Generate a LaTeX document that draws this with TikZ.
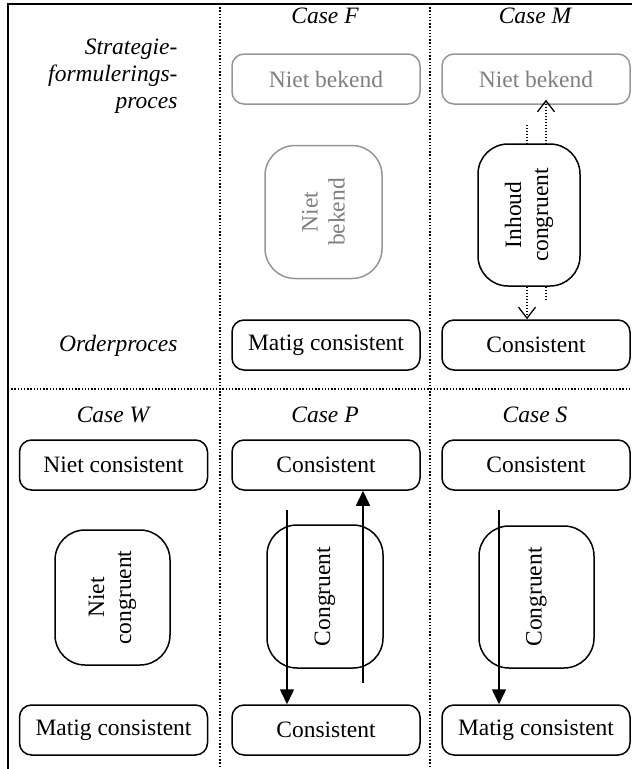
\documentclass[tikz,border=0pt]{standalone}
\usepackage{fontspec}
\setmainfont{Liberation Serif}
\usetikzlibrary{arrows.meta}
\definecolor{unknowntext}{RGB}{128,128,128}
\definecolor{unknownline}{RGB}{150,150,150}
\begin{document}
\begin{tikzpicture}[x=1pt,y=-1pt,
  every node/.style={font=\fontsize{23.5}{27}\selectfont},
  borderline/.style={line width=2.4pt, black},
  divider/.style={line width=1.3pt, dash pattern=on 1.3pt off 1.9pt},
  hbox/.style={draw, line width=1.5pt, rounded corners=12pt, fill=white,
    minimum width=188pt, minimum height=50pt, inner sep=0pt},
  vbox/.style={draw, line width=1.5pt, rounded corners=30pt, fill=white,
    rotate=90, align=center, inner sep=0pt},
  unknown/.style={draw=unknownline, text=unknowntext},
  caselabel/.style={font=\fontsize{23.5}{27}\selectfont\itshape},
  rowlabel/.style={font=\fontsize{23.5}{27}\selectfont\itshape, align=right, anchor=east},
  solidarrow/.style={line width=1.5pt, -{Triangle[length=15pt,width=14pt]}},
  dottedarrow/.style={line width=1.2pt, dash pattern=on 1.2pt off 1.8pt,
    -{Straight Barb[length=11pt,width=17pt,line width=1.3pt]}}
]
\useasboundingbox (0,0) rectangle (632,769);

% grid of the six cases
\draw[borderline] (8,769) -- (8,4) -- (632,4);
\draw[divider] (220,4) -- (220,769);
\draw[divider] (430,4) -- (430,769);
\draw[divider] (8,389) -- (632,389);

% row labels
\node[rowlabel] (strat) at (181,76) {Strategie-\\formulerings-\\proces};
\node[rowlabel] (order) at (181,346) {Orderproces};

% case labels
\node[caselabel] (caseF) at (325,16) {Case F};
\node[caselabel] (caseM) at (535,16) {Case M};
\node[caselabel] (caseW) at (113,415) {Case W};
\node[caselabel] (caseP) at (325,415) {Case P};
\node[caselabel] (caseS) at (535,415) {Case S};

% Case F
\node[hbox, unknown] (ftop) at (326,79) {Niet bekend};
\node[vbox, unknown, minimum width=133pt, minimum height=117pt] (fmid) at (323.5,212) {Niet\\bekend};
\node[hbox] (fbot) at (326,345) {Matig consistent};

% Case M: dotted links sit behind the middle box
\coordinate (mdown) at (527,125);
\coordinate (mup) at (546,300);
\node[hbox, unknown] (mtop) at (536,79) {Niet bekend};
\node[hbox] (mbot) at (536,345) {Consistent};
\draw[dottedarrow] (mdown) -- (mdown |- mbot.north);
\draw[dottedarrow] (mup) -- ([yshift=5pt]mup |- mtop.south);
\node[vbox, minimum width=142pt, minimum height=102pt] (mmid) at (529,215) {Inhoud\\congruent};

% Case W
\node[hbox] (wtop) at (113.5,465) {Niet consistent};
\node[vbox, minimum width=135pt, minimum height=115pt] (wmid) at (112.5,597.5) {Niet\\congruent};
\node[hbox] (wbot) at (113.5,730) {Matig consistent};

% Case P
\node[hbox] (ptop) at (326,465) {Consistent};
\node[vbox, fill=none, minimum width=143pt, minimum height=116pt] (pmid) at (325,596.5) {Congruent};
\node[hbox] (pbot) at (326,730) {Consistent};
\coordinate (pdown) at (287,510);
\coordinate (pup) at (363,683);
\draw[solidarrow] (pdown) -- (pdown |- pbot.north);
\draw[solidarrow] (pup) -- (pup |- ptop.south);

% Case S
\node[hbox] (stop) at (536,465) {Consistent};
\node[vbox, fill=none, minimum width=142pt, minimum height=115pt] (smid) at (536.5,597) {Congruent};
\node[hbox] (sbot) at (536,730) {Matig consistent};
\coordinate (sdown) at (499,510);
\draw[solidarrow] (sdown) -- (sdown |- sbot.north);
\end{tikzpicture}
\end{document}
